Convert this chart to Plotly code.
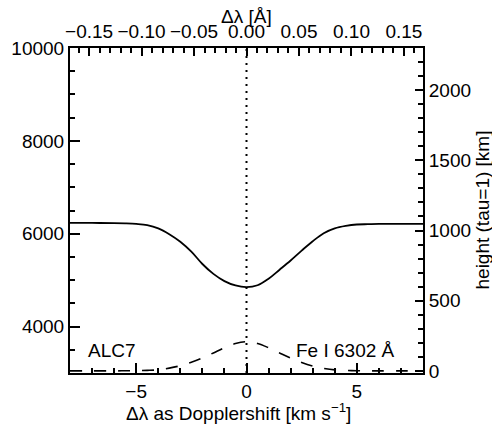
import plotly.graph_objects as go

# Doppler shift grid [km/s]
velocity = [-8, -7, -6, -5.5, -5, -4.5, -4, -3.5, -3, -2.5, -2, -1.5, -1, -0.5, 0,
            0.5, 1, 1.5, 2, 2.5, 3, 3.5, 4, 4.5, 5, 5.5, 6, 7, 8]
# solid curve (left axis)
temperature = [6234, 6232, 6228, 6222, 6210, 6185, 6116, 5990, 5827, 5613, 5348, 5135, 4979, 4885, 4849,
               4890, 5030, 5225, 5424, 5636, 5838, 6010, 6115, 6168, 6198, 6205, 6210, 6213, 6214]
# dashed curve (right axis, height of tau=1 in km)
height = [0, 0, 0, 1, 2, 4, 8, 20, 37, 62, 92, 128, 165, 195, 208,
          195, 165, 128, 92, 60, 35, 18, 7, 3, 1, 0, 0, 0, 0]

lambda0 = 6302.5          # Angstrom
c_kms = 299792.458
vrange = [-8, 8]
lam_range = [v * lambda0 / c_kms for v in vrange]
left_range = [3000, 10000]
right_range = [-15, 2300]
line_center = 0

FONT = "Liberation Sans, Arial, Helvetica, sans-serif"
fs = 19

fig = go.Figure()
fig.add_trace(go.Scatter(x=velocity, y=temperature, mode="lines",
                         line=dict(color="black", width=1.8, shape="spline", smoothing=1.0),
                         xaxis="x", yaxis="y", showlegend=False, hoverinfo="skip"))
fig.add_trace(go.Scatter(x=velocity, y=height, mode="lines",
                         line=dict(color="black", width=1.6, dash="12px,12px", shape="spline", smoothing=1.0),
                         xaxis="x", yaxis="y2", showlegend=False, hoverinfo="skip"))
# invisible anchors so that the extra (tick) axes are drawn
for xa, ya, xr, yr in [("x2", "y", lam_range, left_range), ("x3", "y", vrange, left_range),
                       ("x4", "y", lam_range, left_range), ("x", "y3", vrange, left_range),
                       ("x", "y4", vrange, right_range)]:
    fig.add_trace(go.Scatter(x=xr, y=yr, mode="markers", marker=dict(opacity=0),
                             xaxis=xa, yaxis=ya, showlegend=False, hoverinfo="skip"))

fig.add_shape(type="line", xref="x", yref="paper", x0=line_center, x1=line_center, y0=0, y1=1,
              line=dict(color="black", width=2, dash="2px,5px"))

major = dict(showline=True, linecolor="black", linewidth=2, ticks="inside",
             tickcolor="black", tickwidth=2, showgrid=False, zeroline=False)
minor_ax = dict(showline=False, ticks="inside", ticklen=5, tickcolor="black", tickwidth=2,
                showgrid=False, zeroline=False, showticklabels=False)

fig.update_layout(
    template="none",
    width=492, height=425,
    margin=dict(l=70, r=69, t=48, b=52),
    paper_bgcolor="white", plot_bgcolor="white",
    font=dict(family=FONT, size=fs, color="black"),
    xaxis=dict(range=vrange, dtick=5, ticklen=10, **major),
    xaxis2=dict(range=lam_range, overlaying="x", side="top", anchor="y", dtick=0.05,
                tickformat=".2f", ticklen=8, **major),
    xaxis3=dict(range=vrange, overlaying="x", side="bottom", anchor="y", dtick=1, tick0=0, **minor_ax),
    xaxis4=dict(range=lam_range, overlaying="x", side="top", anchor="y", dtick=0.01, tick0=0, **minor_ax),
    yaxis=dict(range=left_range, dtick=2000, tickformat="d", ticklen=10, **major),
    yaxis2=dict(range=right_range, overlaying="y", side="right", anchor="x", dtick=500,
                ticklen=8, **major),
    yaxis3=dict(range=left_range, overlaying="y", side="left", anchor="x", dtick=500, tick0=0, **minor_ax),
    yaxis4=dict(range=right_range, overlaying="y", side="right", anchor="x", dtick=100, tick0=0, **minor_ax),
)

ann_font = dict(family=FONT, size=fs, color="black")
fig.add_annotation(text="Δλ [Å]", xref="x", yref="paper", x=line_center, y=1, yshift=32,
                   xanchor="center", yanchor="middle", showarrow=False, font=ann_font)
fig.add_annotation(text="Δλ as Dopplershift [km s<sup>−1</sup>]", xref="paper", yref="paper",
                   x=0.5, y=0, yshift=-39, xshift=-8, xanchor="center", yanchor="middle",
                   showarrow=False, font=ann_font)
fig.add_annotation(text="height (tau=1) [km]", xref="paper", yref="paper", x=1, y=0.5,
                   xshift=59, textangle=-90, xanchor="center", yanchor="middle",
                   showarrow=False, font=ann_font)
fig.add_annotation(text="ALC7", xref="paper", yref="paper", x=0.045, y=0.07,
                   xanchor="left", yanchor="middle", showarrow=False, font=ann_font)
fig.add_annotation(text="Fe I 6302 Å", xref="paper", yref="paper", x=0.925, y=0.07,
                   xanchor="right", yanchor="middle", showarrow=False, font=ann_font)

fig.write_html("out.html", config={"displayModeBar": False},
               post_script="document.body.style.margin='0';")
